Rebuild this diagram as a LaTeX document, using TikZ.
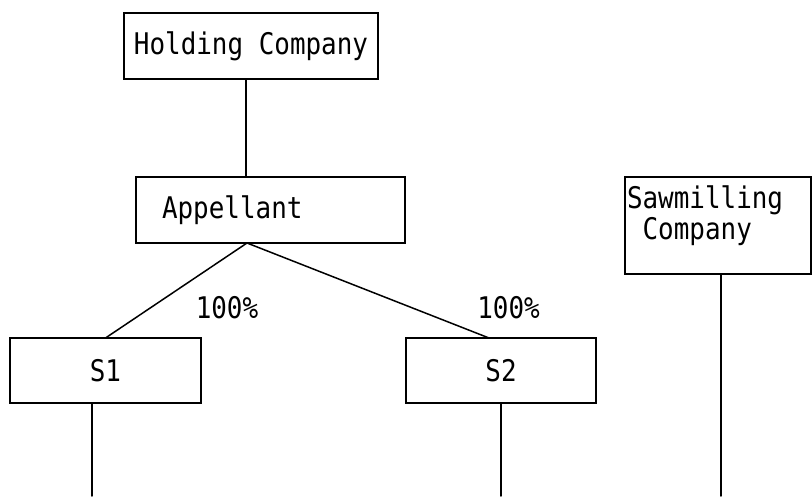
\documentclass[tikz,border=0pt]{standalone}
\usepackage{fontspec}
\newfontfamily\firmfont{DejaVu Sans Mono}[FakeStretch=0.87]

\begin{document}
\begin{tikzpicture}[x=1pt,y=1pt,
  firm/.style={draw=drawColor,line width=1.6pt,inner sep=0pt,outer sep=0pt,
    font=\firmfont\fontsize{29.8}{31}\selectfont},
  firmtext/.style={text=drawColor,inner sep=0pt,outer sep=0pt,align=left,
    font=\firmfont\fontsize{29.8}{31}\selectfont},
  share/.style={draw=drawColor,line width=1.5pt,line cap=round}]
\definecolor{drawColor}{RGB}{0,0,0}
\definecolor{fillColor}{RGB}{255,255,255}
\path[use as bounding box,fill=fillColor] (0,0) rectangle (812,496);

\node[firm,minimum width=254pt,minimum height=66pt] (hold) at (251.0,450.0) {Holding Company};

\node[firm,minimum width=269pt,minimum height=66pt,text width=217pt,inner xsep=26pt,align=left] (app) at (270.5,286.0) {Appellant};

\node[firm,minimum width=186pt,minimum height=97pt] (saw) at (718.0,270.5) {};
\node[firmtext,anchor=north west] (sawname) at ([shift={(2,-9)}]saw.north west) {Sawmilling\\\hphantom{S}Company};

\node[firm,minimum width=191pt,minimum height=65pt,text width=161pt,inner xsep=15pt,align=center] (s1) at (105.5,125.5) {S1};

\node[firm,minimum width=190pt,minimum height=65pt,text width=160pt,inner xsep=15pt,align=center] (s2) at (501.0,125.5) {S2};

\node[firmtext] (pct1) at (227.0,188.5) {100\%};

\node[firmtext] (pct2) at (508.5,188.5) {100\%};

\coordinate (base) at (0,0);

\path[share] ([xshift=-5pt]hold.south) -- ([xshift=-5pt]hold.south |- app.north);

\path[share] ([xshift=-23.5pt]app.south) -- (s1.north);

\path[share] ([xshift=-23.5pt]app.south) -- ([xshift=-12pt]s2.north);

\path[share] ([xshift=-13.5pt]s1.south) coordinate (s1foot) -- (s1foot |- base);

\path[share] (s2.south) -- (s2.south |- base);

\path[share] ([xshift=3pt]saw.south) coordinate (sawfoot) -- (sawfoot |- base);
\end{tikzpicture}
\end{document}
